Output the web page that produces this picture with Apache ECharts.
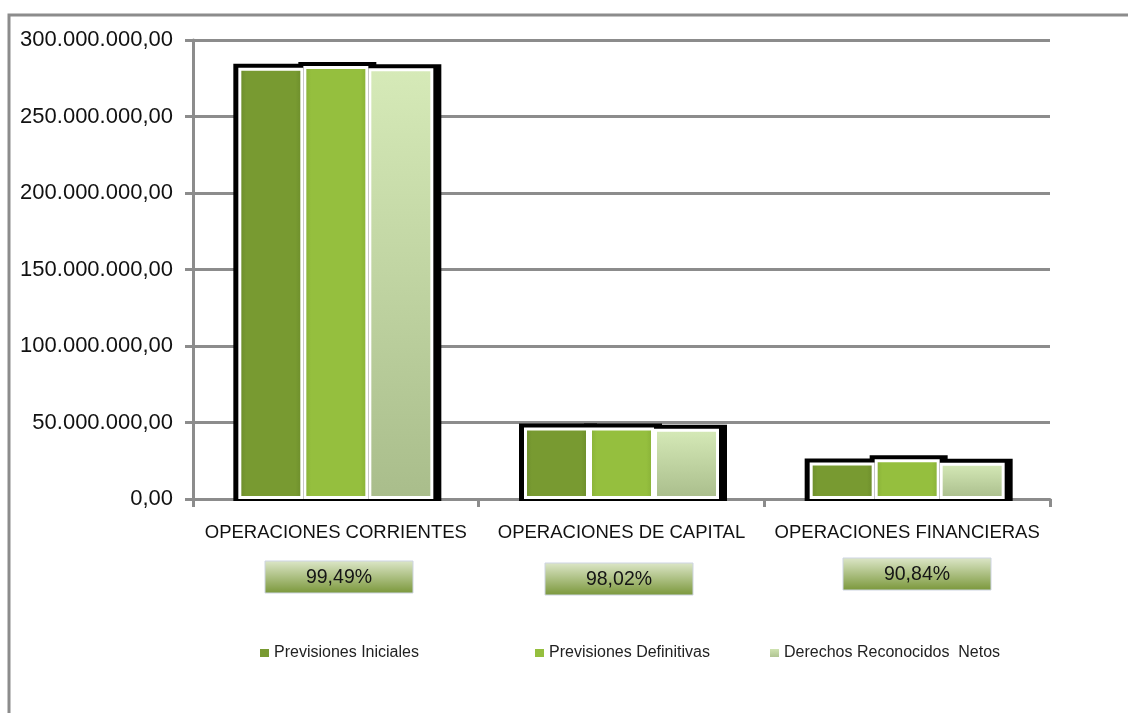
<!DOCTYPE html>
<html>
<head>
<meta charset="utf-8">
<style>
  html, body { margin: 0; padding: 0; background: #fff; }
  #chart { width: 1128px; height: 713px; }
</style>
<script src="https://cdn.jsdelivr.net/npm/echarts@6/dist/echarts.min.js"></script>
</head>
<body>
<div id="chart"></div>
<script>
// Categorías de operaciones
const categories = ['OPERACIONES CORRIENTES', 'OPERACIONES DE CAPITAL', 'OPERACIONES FINANCIERAS'];
// Importes por serie (euros)
const previsionesIniciales = [281800000, 46800000, 23900000];
const previsionesDefinitivas = [283000000, 46800000, 26000000];
const derechosReconocidos = [281560000, 45870000, 23620000];
// Grado de ejecución por categoría
const ejecucion = ['99,49%', '98,02%', '90,84%'];
const seriesNames = ['Previsiones Iniciales', 'Previsiones Definitivas', 'Derechos Reconocidos  Netos'];

const FONT = '"Liberation Sans", Arial, sans-serif';
const BAR_W = 65;

function grad(top, bottom) {
  return new echarts.graphic.LinearGradient(0, 0, 0, 1, [
    { offset: 0, color: top }, { offset: 1, color: bottom }
  ]);
}
function hgrad(edge, mid) {
  return new echarts.graphic.LinearGradient(0, 0, 1, 0, [
    { offset: 0, color: edge }, { offset: 0.12, color: mid },
    { offset: 0.88, color: mid }, { offset: 1, color: edge }
  ]);
}
const colors = [
  hgrad('#6a8a2a', '#789a31'),
  hgrad('#86ae36', '#95bf3e'),
  grad('#d6eab8', '#a9bd8b')
];

function fmt(v) {
  return String(v).replace(/\B(?=(\d{3})+(?!\d))/g, '.') + ',00';
}

// Black backdrop behind each bar group
const frameData = categories.map((c, i) => [i, previsionesIniciales[i], previsionesDefinitivas[i], derechosReconocidos[i]]);

function renderFrame(params, api) {
  const base = api.coord([api.value(0), 0]);
  const start = base[0] - (3 * BAR_W) / 2;
  const children = [];
  for (let k = 0; k < 3; k++) {
    const top = api.coord([api.value(0), api.value(k + 1)])[1];
    children.push({
      type: 'rect',
      shape: { x: start + k * BAR_W - 5, y: top - 4, width: BAR_W + 13, height: base[1] - top + 6 },
      style: { fill: '#000' }
    });
  }
  return { type: 'group', children };
}

const chart = echarts.init(document.getElementById('chart'));

const barSeries = [previsionesIniciales, previsionesDefinitivas, derechosReconocidos].map((d, k) => ({
  name: seriesNames[k],
  type: 'bar',
  data: d,
  barWidth: BAR_W,
  barGap: '0%',
  z: 3,
  itemStyle: { color: colors[k], borderColor: '#ffffff', borderWidth: 3 },
  emphasis: { disabled: true }
}));

const legendLefts = [258, 533, 768];

// Etiquetas de porcentaje de ejecución bajo cada categoría
const boxes = [
  { x: 265, y: 561 },
  { x: 545, y: 563 },
  { x: 843, y: 558 }
];
const boxGraphics = boxes.map((b, i) => ({
  type: 'group',
  x: b.x,
  y: b.y,
  children: [
    {
      type: 'rect',
      shape: { x: 0, y: 0, width: 148, height: 32 },
      style: { fill: grad('#dde7c9', '#7a973a'), stroke: '#cdd4e2', lineWidth: 1 }
    },
    {
      type: 'text',
      style: {
        x: 74, y: 17, text: ejecucion[i], align: 'center', verticalAlign: 'middle',
        fontFamily: FONT, fontSize: 19.5, fill: '#151515'
      }
    }
  ]
}));

chart.setOption({
  animation: false,
  grid: { left: 193, right: 78, top: 40, bottom: 214 },
  legend: seriesNames.map((n, k) => ({
    data: [n],
    left: legendLefts[k],
    top: 645,
    padding: 0,
    icon: 'rect',
    itemWidth: 11,
    itemHeight: 10,
    itemGap: 0,
    textStyle: { fontFamily: FONT, fontSize: 16, color: '#222', padding: [0, 0, 0, -1] },
    selectedMode: false
  })),
  xAxis: {
    type: 'category',
    data: categories,
    axisLine: { lineStyle: { color: '#8c8c8c', width: 3 } },
    axisTick: { show: true, length: 8, lineStyle: { color: '#8c8c8c', width: 3 } },
    axisLabel: { interval: 0, fontFamily: FONT, fontSize: 18.5, color: '#111', margin: 24 }
  },
  yAxis: {
    type: 'value',
    min: 0,
    max: 300000000,
    interval: 50000000,
    axisLine: { show: true, lineStyle: { color: '#8c8c8c', width: 3 } },
    axisTick: { show: true, length: 8, lineStyle: { color: '#8c8c8c', width: 3 } },
    splitLine: { lineStyle: { color: '#8c8c8c', width: 3 } },
    axisLabel: { fontFamily: FONT, fontSize: 22, color: '#111', margin: 20, formatter: fmt }
  },
  series: [
    {
      type: 'custom',
      renderItem: renderFrame,
      data: frameData,
      encode: { x: 0, y: [1, 2, 3] },
      z: 2,
      silent: true,
      legendHoverLink: false
    },
    ...barSeries
  ],
  graphic: [
    {
      type: 'rect',
      shape: { x: 9, y: 15, width: 1200, height: 800 },
      style: { fill: 'none', stroke: '#8c8c8c', lineWidth: 3 },
      silent: true
    },
    ...boxGraphics
  ]
});
</script>
</body>
</html>
